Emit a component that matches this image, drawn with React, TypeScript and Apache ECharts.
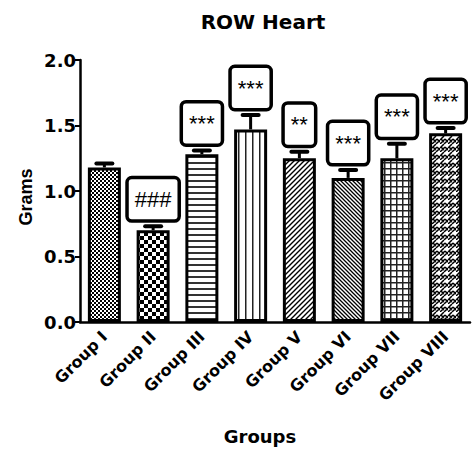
import React, { useEffect, useRef } from "react";
import * as echarts from "echarts";

const categories = ["Group I", "Group II", "Group III", "Group IV", "Group V", "Group VI", "Group VII", "Group VIII"];
const means = [1.18, 0.70, 1.28, 1.47, 1.25, 1.10, 1.25, 1.44];
const errors = [0.03, 0.03, 0.03, 0.11, 0.05, 0.06, 0.11, 0.04];
const marks = ["", "###", "***", "***", "**", "***", "***", "***"];
const yTicks = [0, 0.5, 1.0, 1.5, 2.0];
const titleText = "ROW Heart";
const xName = "Groups";
const yName = "Grams";

const WIDE = "DejaVu Sans";
const ARIAL = "Liberation Sans";

function mk(w: number, h: number, draw: (c: CanvasRenderingContext2D) => void) {
  const c = document.createElement("canvas");
  c.width = w;
  c.height = h;
  const ctx = c.getContext("2d")!;
  ctx.fillStyle = "#fff";
  ctx.fillRect(0, 0, w, h);
  ctx.fillStyle = "#000";
  ctx.strokeStyle = "#000";
  draw(ctx);
  return c;
}

function diag(ctx: CanvasRenderingContext2D, s: number, up: boolean, lw: number) {
  ctx.lineWidth = lw;
  ctx.beginPath();
  if (up) {
    for (let k = -1; k <= 1; k++) {
      ctx.moveTo(k * s - s, s + s);
      ctx.lineTo(k * s + s + s, -s);
    }
  } else {
    for (let k = -1; k <= 1; k++) {
      ctx.moveTo(k * s - s, -s);
      ctx.lineTo(k * s + 2 * s, 2 * s);
    }
  }
  ctx.stroke();
}

function makePatterns() {
  const p1 = mk(4, 4, (c) => {
    c.fillRect(0, 0, 2, 2);
    c.fillRect(2, 2, 2, 2);
  });
  const p2 = mk(8, 8, (c) => {
    c.fillRect(0, 0, 4, 4);
    c.fillRect(4, 4, 4, 4);
  });
  const p3 = mk(6, 6, (c) => {
    c.fillStyle = "#333";
    c.fillRect(0, 0, 6, 2);
  });
  const p4 = mk(7, 7, (c) => {
    c.fillStyle = "#222";
    c.fillRect(0, 0, 1.5, 7);
  });
  const p5 = mk(5, 5, (c) => diag(c, 5, true, 1.4));
  const p6 = mk(4, 4, (c) => diag(c, 4, false, 1.3));
  const p7 = mk(6, 6, (c) => {
    c.fillStyle = "#222";
    c.fillRect(0, 0, 6, 1.5);
    c.fillRect(0, 0, 1.5, 6);
  });
  const p8 = mk(8, 8, (c) => {
    c.lineWidth = 1.5;
    c.beginPath();
    c.moveTo(0, 8);
    c.lineTo(5, 3);
    c.moveTo(4, 8);
    c.lineTo(8, 4);
    c.moveTo(0, 4);
    c.lineTo(4, 0);
    c.moveTo(5, 3);
    c.lineTo(8, 6);
    c.moveTo(-3, 6);
    c.lineTo(0, 9);
    c.moveTo(1, 3);
    c.lineTo(4, 6);
    c.stroke();
  });
  return [p1, p2, p3, p4, p5, p6, p7, p8];
}

export default function App() {
  const ref = useRef<HTMLDivElement>(null);
  useEffect(() => {
    if (!ref.current) return;
    const chart = echarts.init(ref.current, null, { renderer: "svg" });
    const pats = makePatterns();
    const barData = means.map((v, i) => ({
      value: v,
      itemStyle: {
        color: { image: pats[i], repeat: "repeat" } as any,
        borderColor: "#000",
        borderWidth: 3,
      },
    }));
    const errData = means.map((v, i) => [i, v, errors[i]]);
    chart.setOption({
      animation: false,
      backgroundColor: "#fff",
      title: {
        text: titleText,
        left: 258,
        top: 7,
        textAlign: "center",
        textStyle: { fontFamily: WIDE, fontWeight: "bold", fontSize: 20, color: "#000" },
      },
      graphic: [
        {
          type: "text",
          x: 260,
          y: 436,
          style: {
            text: xName,
            align: "center",
            verticalAlign: "middle",
            fontFamily: WIDE,
            fontWeight: "bold",
            fontSize: 18,
            fill: "#000",
          },
        },
        {
          type: "text",
          x: 26,
          y: 197,
          rotation: Math.PI / 2,
          style: {
            text: yName,
            align: "center",
            verticalAlign: "middle",
            fontFamily: ARIAL,
            fontWeight: "bold",
            fontSize: 18,
            fill: "#000",
          },
        },
      ],
      grid: { left: 80, right: 4, top: 60, bottom: 133, containLabel: false },
      xAxis: {
        type: "category",
        data: categories,
        axisLine: { lineStyle: { color: "#000", width: 2.5 } },
        axisTick: { alignWithLabel: true, length: 5, lineStyle: { color: "#000", width: 2 } },
        axisLabel: {
          interval: 0,
          rotate: 45,
          margin: 12,
          fontFamily: WIDE,
          fontWeight: "bold",
          fontSize: 16,
          color: "#000",
        },
      },
      yAxis: {
        type: "value",
        min: 0,
        max: 2,
        interval: 0.5,
        axisLine: { show: true, lineStyle: { color: "#000", width: 2.5 } },
        axisTick: { show: true, length: 5, lineStyle: { color: "#000", width: 2 } },
        splitLine: { show: false },
        axisLabel: {
          margin: 4,
          fontFamily: WIDE,
          fontWeight: "bold",
          fontSize: 18,
          color: "#000",
          formatter: (v: number) => (yTicks.includes(v) ? v.toFixed(1) : ""),
        },
      },
      series: [
        {
          type: "bar",
          data: barData,
          barWidth: 33,
          z: 2,
        },
        {
          type: "custom",
          data: errData,
          z: 3,
          clip: false,
          renderItem: (params: any, api: any) => {
            const i = api.value(0);
            const v = api.value(1);
            const e = api.value(2);
            const base = api.coord([i, v]);
            const top = api.coord([i, v + e]);
            const children: any[] = [
              {
                type: "line",
                shape: { x1: base[0], y1: base[1], x2: top[0], y2: top[1] },
                style: { stroke: "#000", lineWidth: 3 },
              },
              {
                type: "line",
                shape: { x1: top[0] - 8, y1: top[1], x2: top[0] + 8, y2: top[1] },
                style: { stroke: "#000", lineWidth: 4, lineCap: "round" },
              },
            ];
            const m = marks[params.dataIndex];
            if (m) {
              children.push({
                type: "text",
                x: top[0],
                y: top[1] - 7,
                style: {
                  text: m,
                  align: "center",
                  verticalAlign: "bottom",
                  fontFamily: ARIAL,
                  fontSize: 22,
                  fill: "#000",
                  backgroundColor: "#fff",
                  borderColor: "#000",
                  borderWidth: 3.5,
                  borderRadius: 3,
                  padding: [9, 6, 9, 6],
                  lineHeight: 22,
                },
              });
            }
            return { type: "group", children };
          },
        },
      ],
    });
    return () => chart.dispose();
  }, []);
  return <div ref={ref} style={{ width: 474, height: 455, position: "absolute", left: 0, top: 0 }} />;
}
